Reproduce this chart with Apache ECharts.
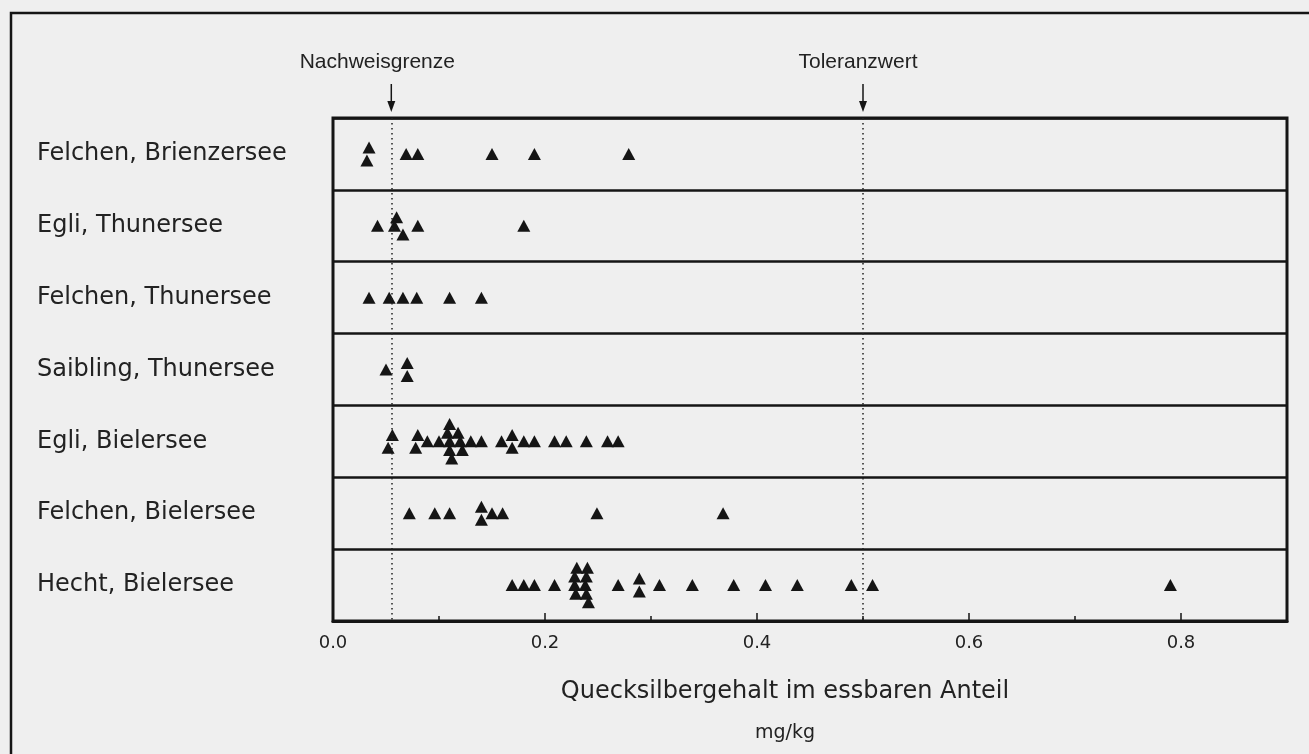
<!DOCTYPE html>
<html>
<head>
<meta charset="utf-8">
<script src="https://cdn.jsdelivr.net/npm/echarts@6/dist/echarts.min.js"></script>
<style>
html,body{margin:0;padding:0;background:#efefef;}
#chart{width:1309px;height:754px;}
</style>
</head>
<body>
<div id="chart"></div>
<script>
// ---- Data (mg/kg) ----
const rowNames = ['Felchen, Brienzersee', 'Egli, Thunersee', 'Felchen, Thunersee', 'Saibling, Thunersee', 'Egli, Bielersee', 'Felchen, Bielersee', 'Hecht, Bielersee'];
const felchenBrienzersee = [0.032, 0.034, 0.069, 0.080, 0.150, 0.190, 0.279];
const egliThunersee = [0.042, 0.058, 0.060, 0.066, 0.080, 0.180];
const felchenThunersee = [0.034, 0.053, 0.066, 0.079, 0.110, 0.140];
const saiblingThunersee = [0.050, 0.070, 0.070];
const egliBielersee = [0.052, 0.056, 0.078, 0.080, 0.089, 0.100, 0.108, 0.110, 0.110, 0.110, 0.112, 0.118, 0.120, 0.122, 0.130, 0.140, 0.159, 0.169, 0.169, 0.180, 0.190, 0.209, 0.220, 0.239, 0.259, 0.269];
const felchenBielersee = [0.072, 0.096, 0.110, 0.140, 0.140, 0.150, 0.160, 0.249, 0.368];
const hechtBielersee = [0.169, 0.180, 0.190, 0.209, 0.228, 0.228, 0.229, 0.230, 0.238, 0.239, 0.239, 0.240, 0.241, 0.269, 0.289, 0.289, 0.308, 0.339, 0.378, 0.408, 0.438, 0.489, 0.509, 0.790];
const nachweisgrenze = 0.055;
const toleranzwert = 0.5;
const xTicks = [0.0, 0.2, 0.4, 0.6, 0.8];

const allRows = [felchenBrienzersee, egliThunersee, felchenThunersee, saiblingThunersee, egliBielersee, felchenBielersee, hechtBielersee];

// stack overlapping markers vertically within their row
const THR = 0.009;
function layoutRow(values, r) {
  const sorted = values.slice().sort((a, b) => a - b);
  const order = [0, 1, -1, 2, -2, 3, -3, 4, -4];
  const placed = [];
  sorted.forEach(v => {
    for (const L of order) {
      if (!placed.some(p => p.level === L && Math.abs(p.x - v) < THR - 1e-9)) { placed.push({x: v, level: L}); break; }
    }
  });
  const clusters = [];
  let cur = [placed[0]];
  for (let i = 1; i < placed.length; i++) {
    if (placed[i].x - placed[i - 1].x < THR - 1e-9) cur.push(placed[i]);
    else { clusters.push(cur); cur = [placed[i]]; }
  }
  clusters.push(cur);
  const out = [];
  clusters.forEach(c => {
    const lv = c.map(p => p.level);
    const lo = Math.min(...lv), hi = Math.max(...lv);
    const shift = -(lo + hi) / 2;
    const step = (hi - lo) <= 1 ? 0.18 : 0.12;
    c.forEach(p => out.push([p.x, r + 0.5 - (p.level + shift) * step]));
  });
  return out;
}
const points = [];
allRows.forEach((vals, r) => layoutRow(vals, r).forEach(p => points.push(p)));

const INK = '#151515';
const chart = echarts.init(document.getElementById('chart'));
chart.setOption({
  backgroundColor: '#efefef',
  animation: false,
  grid: {left: 333, top: 118, right: 22, bottom: 133, show: true, borderColor: INK, borderWidth: 3, backgroundColor: 'transparent'},
  xAxis: [{
    type: 'value', min: 0, max: 0.9, interval: 0.2, position: 'bottom',
    axisLine: {show: true, onZero: false, lineStyle: {color: INK, width: 3}},
    axisTick: {show: true, inside: true, length: 8, lineStyle: {color: INK, width: 1.5}},
    axisLabel: {show: true, margin: 13, fontFamily: 'DejaVu Sans', fontSize: 18, color: '#222',
      showMaxLabel: false,
      formatter: v => xTicks.some(t => Math.abs(t - v) < 1e-6) ? v.toFixed(1) : ''},
    splitLine: {show: false},
    name: '{a|Quecksilbergehalt im essbaren Anteil}\n{b|mg/kg}',
    nameLocation: 'middle', nameGap: 50,
    nameTextStyle: {padding: [0, 50, 0, 0], rich: {
      a: {fontFamily: 'DejaVu Sans', fontSize: 24, color: '#222', lineHeight: 42},
      b: {fontFamily: 'DejaVu Sans', fontSize: 19, color: '#222', lineHeight: 40}
    }}
  }, {
    type: 'value', min: 0, max: 0.9, interval: 0.1, position: 'bottom',
    axisLine: {show: false, onZero: false},
    axisTick: {show: true, inside: true, length: 5, lineStyle: {color: INK, width: 1.5}},
    axisLabel: {show: false}, splitLine: {show: false}
  }],
  yAxis: [{
    type: 'category', data: rowNames, inverse: true, position: 'left',
    axisLine: {show: false}, axisTick: {show: false}, splitLine: {show: false},
    axisLabel: {align: 'left', margin: 296, fontFamily: 'DejaVu Sans', fontSize: 24, color: '#222'}
  }, {
    type: 'value', min: 0, max: 7, interval: 1, inverse: true, position: 'left',
    axisLine: {show: false}, axisTick: {show: false}, axisLabel: {show: false},
    splitLine: {show: true, lineStyle: {color: INK, width: 2.5}}
  }],
  series: [{
    type: 'scatter', xAxisIndex: 0, yAxisIndex: 1,
    symbol: 'triangle', symbolSize: [13, 12],
    itemStyle: {color: INK, opacity: 1},
    data: points,
    markLine: {
      silent: true, symbol: 'none', label: {show: false}, precision: 4,
      lineStyle: {color: '#222', width: 1.5, type: [1.5, 3.5]},
      data: [{xAxis: nachweisgrenze}, {xAxis: toleranzwert}]
    }
  }]
});

function annot(value, text, dx) {
  const px = chart.convertToPixel({xAxisIndex: 0}, value);
  return [
    {type: 'line', shape: {x1: px, y1: 84, x2: px, y2: 104}, style: {stroke: INK, lineWidth: 1.5}},
    {type: 'polygon', shape: {points: [[px - 4, 101], [px + 4, 101], [px, 112]]}, style: {fill: INK}},
    {type: 'text', x: px + dx, y: 62, style: {text: text, fill: '#222', font: '21px "Liberation Sans"', textAlign: 'center', textVerticalAlign: 'middle'}}
  ];
}
chart.setOption({
  graphic: [
    {type: 'polyline', shape: {points: [[11, 760], [11, 13], [1315, 13]]}, style: {stroke: INK, lineWidth: 2.5, fill: null}},
    ...annot(nachweisgrenze, 'Nachweisgrenze', -14),
    ...annot(toleranzwert, 'Toleranzwert', -5)
  ]
});
</script>
</body>
</html>
